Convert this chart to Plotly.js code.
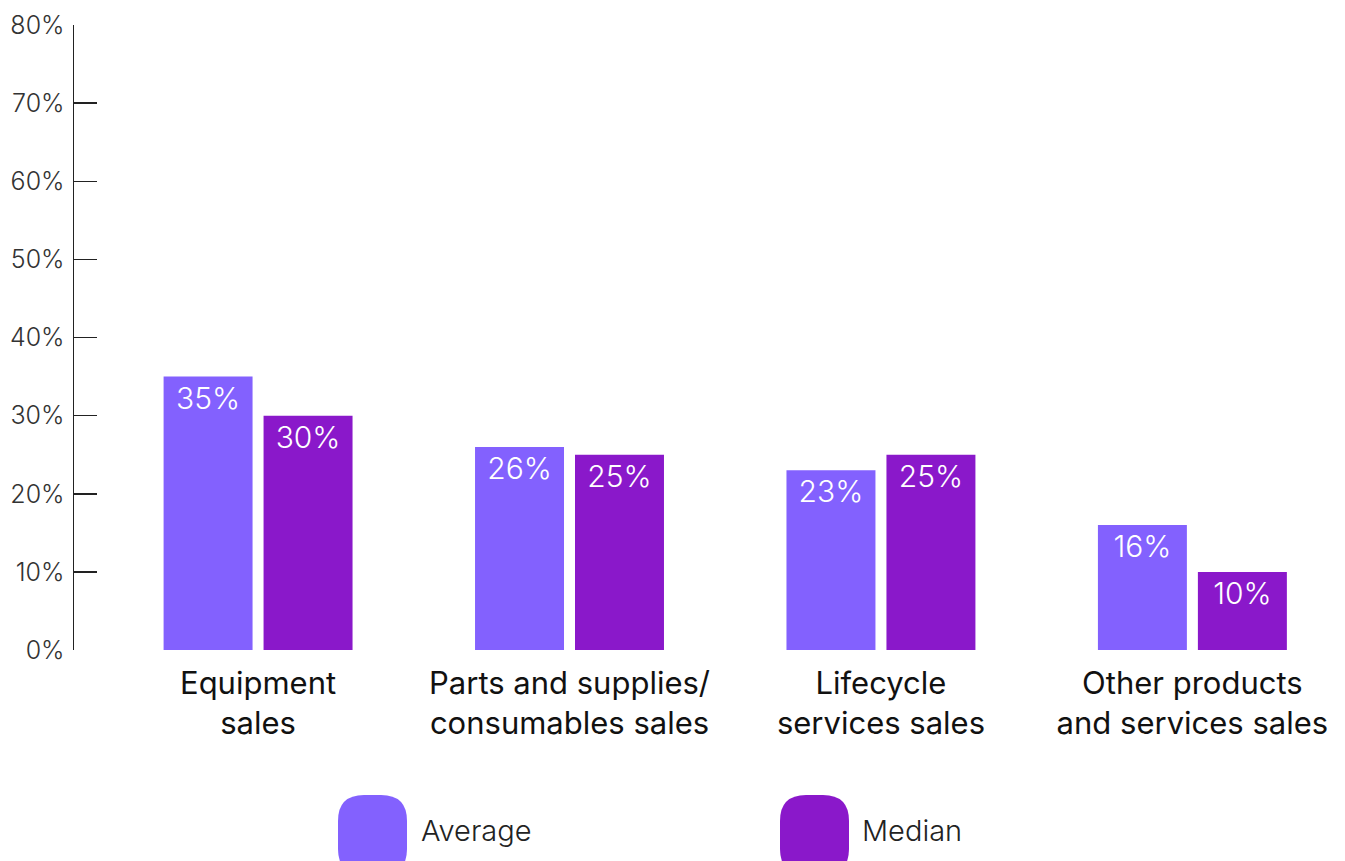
<!DOCTYPE html>
<html>
<head>
<meta charset="utf-8">
<script src="https://cdn.plot.ly/plotly-3.0.1.min.js"></script>
<style>html,body{margin:0;padding:0;background:#fff;}#chart{width:1345px;height:861px;}</style>
</head>
<body>
<div id="chart"></div>
<script>
// ---- data ----
const categories = ["Equipment sales", "Parts and supplies/ consumables sales", "Lifecycle services sales", "Other products and services sales"];
const categoryLabels = ["Equipment<br>sales", "Parts and supplies/<br>consumables sales", "Lifecycle<br>services sales", "Other products<br>and services sales"];
const seriesNames = ["Average", "Median"];
const averageValues = [35, 26, 23, 16];
const medianValues = [30, 25, 25, 10];
const yTickValues = [0, 10, 20, 30, 40, 50, 60, 70, 80];
const yTickLabels = ["0%", "10%", "20%", "30%", "40%", "50%", "60%", "70%", "80%"];

// ---- style ----
const colors = ["#8361FE", "#8A18CA"];
const W = 1345, H = 861;
const M = {l: 74, r: 0, t: 25, b: 211};
const PW = W - M.l - M.r, PH = H - M.t - M.b;
const FONT = "Inter, Roboto, 'Liberation Sans', sans-serif";

function fx(px) { return (px - M.l) / PW; }
function fy(py) { return (H - M.b - py) / PH; }
function roundRectPath(x0, y0, x1, y1, r) {
  const p = (x, y) => fx(x) + "," + fy(y);
  return "M" + p(x0 + r, y0) + " L" + p(x1 - r, y0) + " Q" + p(x1, y0) + " " + p(x1, y0 + r) +
    " L" + p(x1, y1 - r) + " Q" + p(x1, y1) + " " + p(x1 - r, y1) +
    " L" + p(x0 + r, y1) + " Q" + p(x0, y1) + " " + p(x0, y1 - r) +
    " L" + p(x0, y0 + r) + " Q" + p(x0, y0) + " " + p(x0 + r, y0) + " Z";
}

const seriesValues = [averageValues, medianValues];
const traces = seriesNames.map((name, i) => ({
  type: "bar",
  name: name,
  x: categories,
  y: seriesValues[i],
  marker: {color: colors[i], line: {width: 0}},
  text: seriesValues[i].map(v => v + "%"),
  textposition: "inside",
  insidetextanchor: "end",
  textangle: 0,
  insidetextfont: {family: FONT, size: 30, color: "#ffffff", weight: 300},
  hoverinfo: "skip",
  cliponaxis: false
}));

// legend drawn as large rounded swatches
const legendItems = [
  {x0: 338, textX: 421},
  {x0: 780, textX: 862}
];
const shapes = legendItems.map((it, i) => ({
  type: "path", xref: "paper", yref: "paper",
  path: roundRectPath(it.x0, 795, it.x0 + 69, 875, 26),
  fillcolor: colors[i], line: {width: 0}, layer: "above"
}));
const annotations = legendItems.map((it, i) => ({
  xref: "paper", yref: "paper", x: fx(it.textX - 2), y: fy(830),
  xanchor: "left", yanchor: "middle", showarrow: false,
  text: seriesNames[i],
  font: {family: FONT, size: 29, color: "#222222", weight: 300}
}));

const layout = {
  width: W, height: H,
  margin: M,
  paper_bgcolor: "#ffffff", plot_bgcolor: "#ffffff",
  showlegend: false,
  barmode: "group",
  bargap: 0.358,
  bargroupgap: 0.11,
  font: {family: FONT, color: "#333333"},
  xaxis: {
    type: "category",
    range: [-0.591, 3.49],
    tickvals: categories,
    ticktext: categoryLabels,
    showline: false, showgrid: false, zeroline: false,
    ticks: "",
    ticklabelstandoff: 12,
    tickfont: {family: FONT, size: 31, color: "#111111"},
    fixedrange: true
  },
  yaxis: {
    range: [0, 80],
    tickvals: yTickValues,
    ticktext: yTickLabels,
    showline: true, linecolor: "#222222", linewidth: 1.5,
    ticks: "inside", ticklen: 23, tickwidth: 1.5, tickcolor: "#222222",
    showgrid: false, zeroline: false,
    ticklabelstandoff: 3,
    tickfont: {family: FONT, size: 25, color: "#333333", weight: 300},
    fixedrange: true
  },
  shapes: shapes,
  annotations: annotations
};

Plotly.newPlot("chart", traces, layout, {staticPlot: true, displayModeBar: false});
</script>
</body>
</html>
